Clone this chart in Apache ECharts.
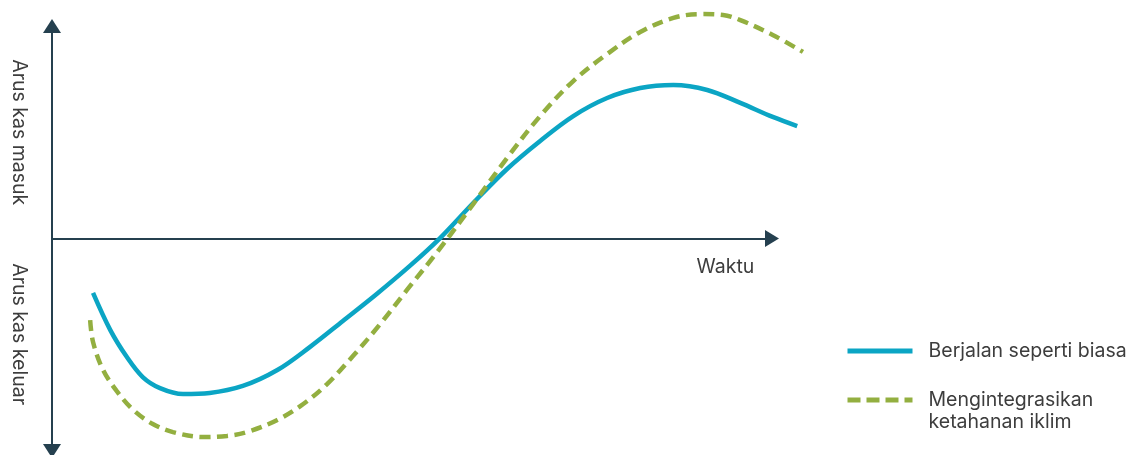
<!DOCTYPE html>
<html>
<head>
<meta charset="utf-8">
<script src="https://cdn.jsdelivr.net/npm/echarts@6/dist/echarts.min.js"></script>
<style>
  html, body { margin: 0; padding: 0; background: #ffffff; }
  #chart { width: 1130px; height: 455px; }
</style>
</head>
<body>
<div id="chart"></div>
<script>
// Cash flow over time: business as usual vs. integrating climate resilience
const seriesNames = ['Berjalan seperti biasa', 'Mengintegrasikan\nketahanan iklim'];

// Business as usual
const baselineTime = [5.7, 8.1, 10.4, 12.6, 15.0, 18.2, 21.9, 26.5, 31.3, 35.8, 40.4, 45.1, 49.7,
  53.9, 58.5, 63.2, 67.8, 72.4, 77.1, 81.7, 86.3, 91.0, 95.6, 100.1, 103.5];
const baselineFlow = [-25.6, -43.1, -55.8, -65.2, -70.4, -73.2, -72.7, -69.4, -61.9, -51.1, -38.8, -26.1, -12.9,
  0.2, 16.7, 32.7, 45.9, 57.6, 66.1, 70.8, 72.2, 69.9, 63.8, 57.2, 52.9];

// Integrating climate resilience
const resilientTime = [5.3, 5.7, 7.1, 9.0, 11.3, 14.0, 16.8, 21.0, 24.3, 27.1, 31.3, 34.9, 38.2, 41.8, 45.6,
  49.3, 53.5, 58.5, 63.2, 67.8, 72.4, 77.1, 81.7, 86.3, 90.0, 93.2, 95.6, 100.1, 104.3];
const resilientFlow = [-38.4, -48.7, -61.9, -71.8, -80.7, -87.3, -91.1, -93.4, -92.9, -91.1, -85.4, -77.9, -68.5, -55.3, -40.2,
  -24.2, -6.4, 16.2, 37.9, 57.6, 74.1, 86.8, 97.2, 103.8, 105.6, 105.2, 102.8, 95.8, 87.8];

// Axis captions
const xAxisName = 'Waktu';
const yTickLabels = [[50, 'Arus kas masuk'], [-45, 'Arus kas keluar']];

const AXIS = '#25404f';
const TEXT = '#3d3d3d';
const BLUE = '#0ba5c4';
const GREEN = '#93af40';
const FONT = 'Inter, "Noto Sans", sans-serif';

function pairs(xs, ys) { return xs.map((x, i) => [x, ys[i]]); }
function lookup(table, v) {
  const hit = table.find(t => Math.abs(t[0] - v) < 1e-6);
  return hit ? hit[1] : '';
}

const textBase = { color: TEXT, fontSize: 19.5, fontFamily: FONT, fontWeight: 400 };

// grid 0 carries the two arrowed axes; grid 1 shares its scale and holds the curves,
// reaching a little past the horizontal arrow
const PX_PER_UNIT = 7.2;
const axisGrid = { left: 52, right: 358, top: 26, bottom: 4, outerBoundsMode: 'none', containLabel: false };
const dataGrid = { left: 52, right: 1130 - 52 - PX_PER_UNIT * 110, top: 26, bottom: 4, outerBoundsMode: 'none', containLabel: false };

const chart = echarts.init(document.getElementById('chart'), null, { renderer: 'canvas' });
chart.setOption({
  animation: false,
  backgroundColor: '#ffffff',
  grid: [axisGrid, dataGrid],
  xAxis: [
    {
      gridIndex: 0, type: 'value', min: 0, max: 100,
      name: xAxisName, nameLocation: 'end', nameGap: -46.5,
      nameTextStyle: Object.assign({ align: 'center', verticalAlign: 'top', lineHeight: 22, padding: [18, 0, 0, 0] }, textBase),
      axisLine: {
        show: true, onZero: true,
        symbol: ['none', 'triangle'], symbolSize: [17, 14],
        lineStyle: { color: AXIS, width: 2 }
      },
      axisTick: { show: false },
      splitLine: { show: false },
      axisLabel: { show: false }
    },
    { gridIndex: 1, type: 'value', min: 0, max: 110, show: false }
  ],
  yAxis: [
    {
      gridIndex: 0, type: 'value', min: -100, max: 100, interval: 5,
      axisLine: {
        show: true, onZero: true,
        symbol: ['triangle', 'triangle'], symbolSize: [18, 14],
        lineStyle: { color: AXIS, width: 2 }
      },
      axisTick: { show: false },
      splitLine: { show: false },
      axisLabel: Object.assign({ rotate: -90, margin: 23, formatter: v => lookup(yTickLabels, v) }, textBase)
    },
    { gridIndex: 1, type: 'value', min: -100, max: 100, show: false }
  ],
  legend: [
    {
      data: [seriesNames[0]], orient: 'vertical', left: 845, top: 340, padding: 0,
      itemWidth: 65, itemHeight: 14, itemStyle: { opacity: 0 },
      lineStyle: { width: 5 },
      textStyle: Object.assign({ lineHeight: 22, padding: [0, 0, 0, 11] }, textBase)
    },
    {
      data: [seriesNames[1]], orient: 'vertical', left: 845, top: 367, padding: 0,
      itemWidth: 65, itemHeight: 14, itemStyle: { opacity: 0 },
      lineStyle: { width: 5, type: [13, 6] },
      // a leading blank line keeps the icon level with the first line of text
      formatter: name => '\n' + name,
      textStyle: Object.assign({ lineHeight: 22, padding: [0, 0, 0, 11] }, textBase)
    }
  ],
  series: [
    {
      name: seriesNames[0], type: 'line', xAxisIndex: 1, yAxisIndex: 1,
      data: pairs(baselineTime, baselineFlow),
      smooth: 0.35, symbol: 'none', clip: false,
      lineStyle: { color: BLUE, width: 4.5, cap: 'butt' },
      itemStyle: { color: BLUE }
    },
    {
      name: seriesNames[1], type: 'line', xAxisIndex: 1, yAxisIndex: 1,
      data: pairs(resilientTime, resilientFlow),
      smooth: 0.35, symbol: 'none', clip: false,
      lineStyle: { color: GREEN, width: 4.5, type: [11, 6.5], cap: 'butt' },
      itemStyle: { color: GREEN }
    }
  ]
});
</script>
</body>
</html>
